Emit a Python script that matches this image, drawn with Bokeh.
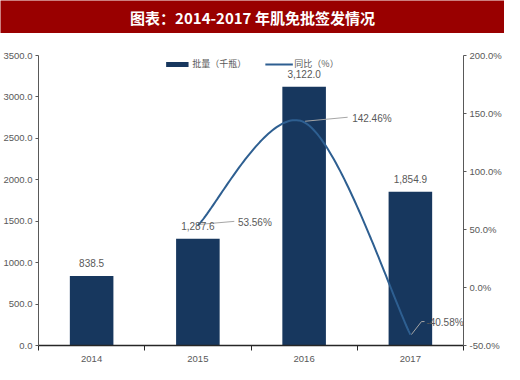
import numpy as np
from bokeh.plotting import figure
from bokeh.models import (Range1d, LinearAxis, FixedTicker, PrintfTickFormatter,
                          ColumnDataSource, LabelSet, Label, Legend, LegendItem)
from bokeh.core.properties import value
from bokeh.layouts import column
from bokeh.embed import file_html
from bokeh.resources import INLINE

# ---------------- data ----------------
title_text = "图表：2014-2017 年肌免批签发情况"
years = ["2014", "2015", "2016", "2017"]
volume = [838.5, 1287.6, 3122.0, 1854.9]          # 批量（千瓶）
yoy_years = ["2015", "2016", "2017"]
yoy = [53.56, 142.46, -40.58]                      # 同比（%）
vol_ticks = [0, 500, 1000, 1500, 2000, 2500, 3000, 3500]
pct_ticks = [-50, 0, 50, 100, 150, 200]
series_names = ["批量（千瓶）", "同比（%）"]

# ---------------- styling constants ----------------
BAR_COLOR = "#17375e"
LINE_COLOR = "#2e5f91"
TEXT_COLOR = "#595959"
AXIS_COLOR = "#595959"
BAND_COLOR = "#990000"
FONT = "Liberation Sans"
CJK = "Noto Sans CJK SC"
W = 504
HEAD_H = 33
MAIN_H = 331

xs = [i + 0.5 for i in range(len(years))]
bounds = list(range(len(years) + 1))
x_of = {y: x for y, x in zip(years, xs)}
yx = [x_of[y] for y in yoy_years]

# ---------------- header band ----------------
head = figure(width=W, height=HEAD_H, x_range=(0, 1), y_range=(0, 1),
              toolbar_location=None, output_backend="svg", min_border=0,
              background_fill_color=BAND_COLOR, border_fill_color=BAND_COLOR,
              outline_line_color=None, frame_align=False,
              x_axis_location=None, y_axis_location=None)
head.grid.visible = False
head.add_layout(Label(x=0.5, y=0.5, text=title_text, text_align="center",
                      text_baseline="middle", text_color="white",
                      text_font=CJK, text_font_size="15px", text_font_style="bold"))

# ---------------- main chart ----------------
p = figure(width=W, height=MAIN_H, x_range=Range1d(0, len(years)),
           y_range=Range1d(vol_ticks[0], vol_ticks[-1]),
           toolbar_location=None, output_backend="svg", frame_align=False,
           min_border_top=22, min_border_left=0, min_border_right=0, min_border_bottom=0,
           outline_line_color=None, background_fill_color="white", border_fill_color="white")
p.extra_y_ranges = {"pct": Range1d(pct_ticks[0], pct_ticks[-1])}
p.grid.visible = False

xa = p.xaxis[0]
xa.ticker = FixedTicker(ticks=xs, minor_ticks=bounds)
xa.major_label_overrides = {x: y for x, y in zip(xs, years)}
xa.major_tick_out = 0
xa.major_tick_in = 0
xa.minor_tick_out = 5
xa.minor_tick_in = 0
xa.minor_tick_line_color = "#262626"
xa.axis_line_color = "#262626"
xa.axis_line_width = 1.5
xa.major_label_standoff = 5

ya = p.yaxis[0]
ya.ticker = FixedTicker(ticks=vol_ticks)
ya.formatter = PrintfTickFormatter(format="%.1f")

ra = LinearAxis(y_range_name="pct", ticker=FixedTicker(ticks=pct_ticks),
                formatter=PrintfTickFormatter(format="%.1f%%"))
p.add_layout(ra, "right")

for ax in (ya, ra):
    ax.major_tick_out = 3
    ax.major_tick_in = 0
    ax.minor_tick_line_color = None
    ax.axis_line_color = AXIS_COLOR
    ax.major_tick_line_color = AXIS_COLOR
    ax.major_label_standoff = 3
for ax in (xa, ya, ra):
    ax.major_label_text_color = TEXT_COLOR
    ax.major_label_text_font = FONT
    ax.major_label_text_font_size = "9.5px"

bars = p.vbar(x=xs, top=volume, width=0.41, fill_color=BAR_COLOR, line_color=None)

# smooth (Catmull-Rom) curve through the YoY points
P = np.column_stack([yx, yoy]).astype(float)
ext = np.vstack([P[0], P, P[-1]])
cx, cy = [], []
for i in range(len(P) - 1):
    p0, p1 = ext[i + 1], ext[i + 2]
    m0 = (ext[i + 2] - ext[i]) / 2.0
    m1 = (ext[i + 3] - ext[i + 1]) / 2.0
    t = np.linspace(0, 1, 60)
    h00 = 2 * t**3 - 3 * t**2 + 1
    h10 = t**3 - 2 * t**2 + t
    h01 = -2 * t**3 + 3 * t**2
    h11 = t**3 - t**2
    seg = np.outer(h00, p0) + np.outer(h10, m0) + np.outer(h01, p1) + np.outer(h11, m1)
    cx.extend(seg[:, 0]); cy.extend(seg[:, 1])
line = p.line(cx, cy, y_range_name="pct", line_color=LINE_COLOR, line_width=2)

# bar value labels
vsrc = ColumnDataSource(dict(x=xs, y=volume, t=[f"{v:,.1f}" for v in volume]))
p.add_layout(LabelSet(x="x", y="y", text="t", source=vsrc, y_offset=13,
                      text_align="center", text_baseline="middle",
                      text_color=TEXT_COLOR, text_font=value(FONT),
                      text_font_size="10px"))

# percentage labels with leader lines (offsets in screen px: right, up)
PX_X = 420 / len(years)
PX_Y = 290 / (pct_ticks[-1] - pct_ticks[0])
lead_px = [[(2, 1), (36, 4)], [(1, 1), (43, 5)], [(1, 0), (11, 13), (14, 13)]]
lab_dx = [40, 48, 16]
lab_dy = [3, 4, 12]
lxs = [[x + dx / PX_X for dx, dy in pts] for x, pts in zip(yx, lead_px)]
lys = [[y + dy / PX_Y for dx, dy in pts] for y, pts in zip(yoy, lead_px)]
p.multi_line(lxs, lys, y_range_name="pct", line_color="#a6a6a6", line_width=1)
for x, y, dx, dy in zip(yx, yoy, lab_dx, lab_dy):
    p.add_layout(Label(x=x, y=y, y_range_name="pct", text=f"{y:.2f}%",
                       x_offset=dx, y_offset=dy, text_align="left",
                       text_baseline="middle", text_color=TEXT_COLOR,
                       text_font=FONT, text_font_size="10px"))

legend = Legend(items=[LegendItem(label=series_names[0], renderers=[bars]),
                       LegendItem(label=series_names[1], renderers=[line])],
                orientation="horizontal", location="top_center",
                glyph_width=28, glyph_height=6, label_height=12,
                label_text_font=CJK, label_text_font_size="9px",
                label_text_color=TEXT_COLOR, label_standoff=2, spacing=18,
                padding=0, margin=2, border_line_color=None,
                background_fill_alpha=0)
p.add_layout(legend)

layout = column(head, p, spacing=0)
open("out.html", "w").write(file_html(layout, INLINE))
